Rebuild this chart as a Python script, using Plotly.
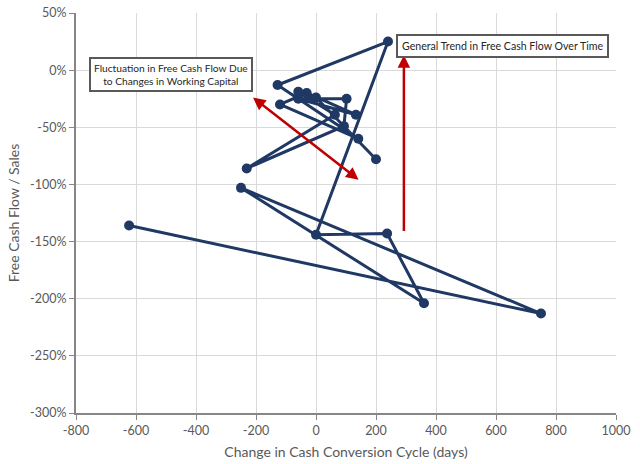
import plotly.graph_objects as go

# Data (in order of time)
ccc_change = [-623, 750, -250, 360, 237, 0, 240, -128, 141, -120, -31, 133, -59, 102, 93, -231, 63, -59, 0, 200]
fcf_sales = [-136, -213, -103, -204, -143, -144, 25, -13, -60, -30, -20, -39, -25, -25, -49, -86, -39, -19, -24, -78]

x_ticks = [-800, -600, -400, -200, 0, 200, 400, 600, 800, 1000]
x_labels = ["-800", "-600", "-400", "-200", "0", "200", "400", "600", "800", "1000"]
y_ticks = [50, 0, -50, -100, -150, -200, -250, -300]
y_labels = ["50%", "0%", "-50%", "-100%", "-150%", "-200%", "-250%", "-300%"]

navy = "#1F3864"
red = "#C00000"
gray_txt = "#595959"
font_family = "Lato, Carlito, Calibri, 'Open Sans', sans-serif"

fig = go.Figure()
fig.add_trace(go.Scatter(
    x=ccc_change, y=fcf_sales, mode="lines+markers",
    line=dict(color=navy, width=3),
    marker=dict(color=navy, size=10),
    showlegend=False, hoverinfo="skip",
))

# Red arrows
fig.add_annotation(x=-210, y=-24, ax=147, ay=-97, xref="x", yref="y", axref="x", ayref="y",
                   showarrow=True, arrowhead=2, arrowside="end+start", arrowsize=1,
                   arrowwidth=2.5, arrowcolor=red, text="")
fig.add_annotation(x=293, y=13, ax=293, ay=-142, xref="x", yref="y", axref="x", ayref="y",
                   showarrow=True, arrowhead=2, arrowsize=1,
                   arrowwidth=2.5, arrowcolor=red, text="")

# Text boxes
fig.add_annotation(x=-485, y=-4, xref="x", yref="y", showarrow=False,
                   text="Fluctuation in Free Cash Flow Due<br>to Changes in Working Capital",
                   font=dict(family=font_family, size=10.2, color="#262626"),
                   bgcolor="white", bordercolor="#595959", borderwidth=2, borderpad=3, align="center")
fig.add_annotation(x=623, y=21.5, xref="x", yref="y", showarrow=False,
                   text="General Trend in Free Cash Flow Over Time",
                   font=dict(family=font_family, size=10.6, color="#262626"),
                   bgcolor="white", bordercolor="#595959", borderwidth=2, borderpad=4, align="center")

axis_common = dict(
    showgrid=True, gridcolor="#D9D9D9", gridwidth=1,
    showline=True, linecolor="#868686", linewidth=2,
    ticks="outside", ticklen=5, tickcolor="#868686", tickwidth=1,
    zeroline=False, automargin=False, ticklabeloverflow="allow",
    tickfont=dict(family=font_family, size=12.5, color=gray_txt),
)

fig.update_xaxes(range=[-800, 1000], tickvals=x_ticks, ticktext=x_labels,
                 title=dict(text="Change in Cash Conversion Cycle (days)",
                            font=dict(family=font_family, size=14, color=gray_txt), standoff=10),
                 **axis_common)
fig.update_yaxes(range=[-300, 50], tickvals=y_ticks, ticktext=y_labels,
                 title=dict(text="Free Cash Flow / Sales",
                            font=dict(family=font_family, size=14, color=gray_txt), standoff=7),
                 **axis_common)

fig.update_layout(
    width=640, height=464,
    margin=dict(l=76, r=24, t=13, b=51),
    plot_bgcolor="white", paper_bgcolor="white",
    font=dict(family=font_family),
)

# Remove the browser's default 8px body margin so the figure fills the window.
fig.write_html("out.html", config={"displayModeBar": False},
               post_script="document.body.style.margin='0';document.body.style.overflow='hidden';")
